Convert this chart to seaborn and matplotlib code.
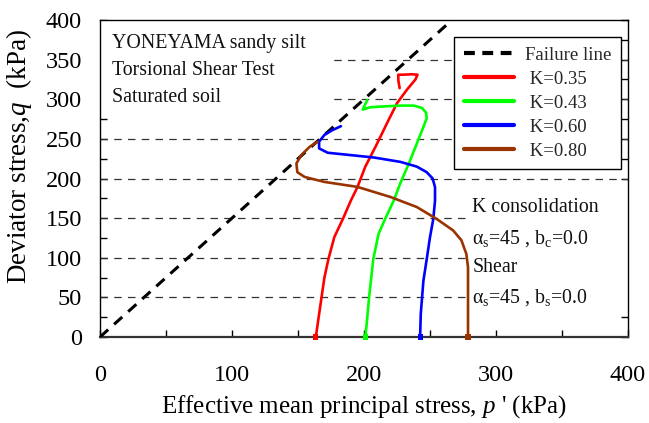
import numpy as np
import pandas as pd
import matplotlib
matplotlib.use("Agg")
import matplotlib.pyplot as plt
import seaborn as sns
from matplotlib.lines import Line2D
from matplotlib.patches import Rectangle

# ---------------- data ----------------
series_labels = ["K=0.35", "K=0.43", "K=0.60", "K=0.80"]
series_colors = ["#FF0000", "#00FF00", "#0000FF", "#993300"]

k035_p = [163.5, 166, 170, 173, 177.5, 184, 190, 195, 201, 209, 217.5, 225, 232.5, 239, 240.5, 236, 230, 226, 226, 227]
k035_q = [0, 29, 75, 98, 126, 149, 172, 189, 215, 241, 270, 295, 312, 325, 331, 331.5, 331, 331, 324, 314]

k043_p = [201, 202, 203.8, 207, 211, 216, 222.5, 227.5, 234, 240, 245, 247.5, 247, 244, 237.5, 227.5, 215, 205, 199, 202.5]
k043_q = [0, 16, 49, 98, 130, 149, 172, 194, 219, 244, 265, 276, 283, 289, 292, 292, 291, 290, 287, 299]

k060_p = [242.5, 243, 245, 247.5, 250, 252.5, 253.8, 253.8, 252, 247.5, 240, 227.5, 207.5, 190, 172.5, 166, 166, 170, 176, 182.5]
k060_q = [0, 29, 71, 98, 126, 149, 172, 189, 200, 208, 215, 221, 226.5, 229.5, 232.5, 238, 246.5, 255, 261, 266]

k080_p = [278.8, 278.8, 278.8, 277.5, 273.8, 267.5, 255, 240, 220, 195, 170, 155, 149.5, 148.8, 152.5, 158.8, 165]
k080_q = [0, 49, 88, 105, 122, 134.5, 149, 164, 176.7, 189.4, 195.7, 202, 208, 219, 229.5, 240, 246.5]

failure_p = [0, 266.7]
failure_q = [0, 400]

x_ticks = [0, 100, 200, 300, 400]
x_minor = [50, 150, 250, 350]
y_ticks = [0, 50, 100, 150, 200, 250, 300, 350, 400]
y_minor = [25, 75, 125, 175, 225, 275, 325, 375]
grid_levels = [50, 100, 150, 200, 250, 300, 350]

info_left = ["YONEYAMA sandy silt", "Torsional Shear Test", "Saturated soil"]
info_right = ["K consolidation",
              "\u03b1$_\\mathrm{s}$=45 , b$_\\mathrm{c}$=0.0",
              "Shear",
              "\u03b1$_\\mathrm{s}$=45 , b$_\\mathrm{s}$=0.0"]

# ---------------- frame ----------------
all_p = [k035_p, k043_p, k060_p, k080_p]
all_q = [k035_q, k043_q, k060_q, k080_q]
frames = []
for lab, pp, qq in zip(series_labels, all_p, all_q):
    frames.append(pd.DataFrame({"p": pp, "q": qq, "series": lab,
                                "order": np.arange(len(pp))}))
df = pd.concat(frames, ignore_index=True)
starts = df[df["order"] == 0]
palette = dict(zip(series_labels, series_colors))

# ---------------- style ----------------
sns.set_theme(style="ticks")
plt.rcParams['font.family'] = ['Liberation Serif', 'DejaVu Serif']
plt.rcParams['mathtext.fontset'] = 'custom'
plt.rcParams['mathtext.rm'] = 'Liberation Serif'
plt.rcParams['mathtext.it'] = 'Liberation Serif:italic'

fig = plt.figure(figsize=(6.49, 4.23), dpi=100)
ax = fig.add_axes([100/649, 1-337/423, 528/649, 317/423])

# gridlines
for lv in grid_levels:
    ax.axhline(lv, color='#333333', lw=0.9, dashes=(6, 5), zorder=1)

# white backgrounds of text blocks
ax.add_patch(Rectangle((0, 0.70), 0.4356, 0.30, transform=ax.transAxes,
                       facecolor='white', edgecolor='none', zorder=1.5))
ax.add_patch(Rectangle((0.695, 0.069), 0.305, 0.388, transform=ax.transAxes,
                       facecolor='white', edgecolor='none', zorder=1.5))

# failure line
ax.plot(failure_p, failure_q, color='black', lw=2.2, dashes=(3.6, 2.6), zorder=3)

# stress paths
sns.lineplot(data=df, x="p", y="q", hue="series", palette=palette, sort=False,
             estimator=None, units="series", lw=1.9, legend=False, ax=ax, zorder=4)
sns.scatterplot(data=starts, x="p", y="q", hue="series", palette=palette,
                marker='s', s=14, edgecolor='none', legend=False, ax=ax, zorder=5,
                clip_on=False)

ax.set_xlim(0, 400)
ax.set_ylim(0, 400)
ax.set_xticks(x_ticks)
ax.set_xticks(x_minor, minor=True)
ax.set_yticks(y_ticks)
ax.set_yticks(y_minor, minor=True)
ax.tick_params(axis='x', which='both', direction='in', length=5, width=1,
               top=False, pad=20, labelsize=17.5, colors='black')
ax.tick_params(axis='y', which='both', direction='in', length=5, width=1,
               right=True, pad=13, labelsize=17.5, colors='black')
for s in ax.spines.values():
    s.set_color('black')
    s.set_linewidth(1.0)
ax.spines['bottom'].set_linewidth(1.6)
ax.spines['bottom'].set_color('#333333')

ax.set_xlabel("Effective mean principal stress, $p$ ' (kPa)", fontsize=18, color='black')
ax.set_ylabel("Deviator stress,$q$  (kPa)", fontsize=19.5, color='black')
ax.xaxis.set_label_coords(0.5, -0.178)
ax.yaxis.set_label_coords(-0.125, 0.57)

# text blocks
for txt, yy in zip(info_left, [0.927, 0.842, 0.757]):
    ax.text(0.023, yy, txt, transform=ax.transAxes, fontsize=14.3,
            ha='left', va='center', color='#111111', zorder=6)
for txt, yy in zip(info_right, [0.410, 0.312, 0.218, 0.126]):
    ax.text(0.705, yy, txt, transform=ax.transAxes, fontsize=14.3,
            ha='left', va='center', color='#111111', zorder=6)

# legend
handles = [Line2D([0], [0], color='black', lw=3, dashes=(2.6, 1.8))]
handles += [Line2D([0], [0], color=c, lw=3) for c in series_colors]
labels = ["Failure line"] + [" " + s for s in series_labels]
leg = ax.legend(handles, labels, loc='upper right', bbox_to_anchor=(0.987, 0.946),
                borderaxespad=0, fontsize=13.5, handlelength=2.7, handletextpad=0.6,
                labelspacing=0.37, borderpad=0.5, fancybox=False, framealpha=1,
                edgecolor='black')
leg.get_frame().set_linewidth(1.0)
leg.set_zorder(7)

fig.savefig("out.png", dpi=100)
